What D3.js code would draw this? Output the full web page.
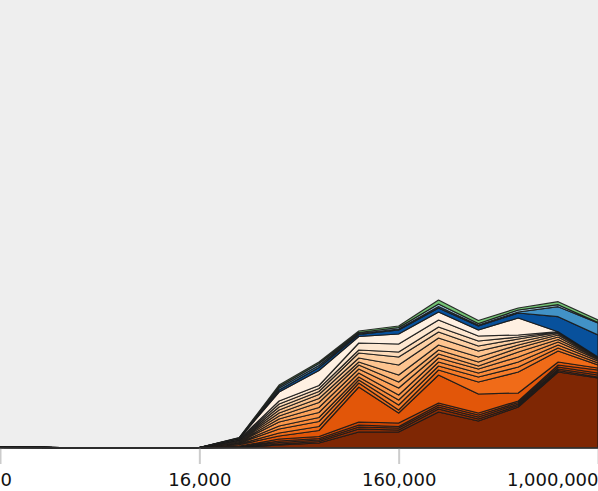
<!DOCTYPE html>
<html>
<head>
<meta charset="utf-8">
<script src="https://cdn.jsdelivr.net/npm/d3@7"></script>
<style>
  body { margin: 0; background: #ffffff; }
  svg { display: block; }
</style>
</head>
<body>
<svg id="chart" width="598" height="491"></svg>
<script>
// ---- data ----
const bins = [0, 1, 2, 3, 4, 5, 6, 7, 8, 9, 10, 11, 12, 13, 14, 15];
const tickBins = [0, 5, 10, 15];
const tickLabels = ["0", "16,000", "160,000", "1,000,000"];

const seriesNames = [
  "S1", "S2", "S3", "S4", "S5", "S6", "S7", "S8", "S9", "S10", "S11",
  "S12", "S13", "S14", "S15", "S16", "S17", "S18", "S19", "S20", "S21", "S22"
];

const seriesValues = [
  [0.5, 0.4, 0, 0, 0.1, 0.2, 0.5, 3, 5, 16, 16, 36, 27, 41, 76, 70],
  [0, 0, 0, 0, 0, 0, 0.3, 1, 1.5, 3, 2, 3, 2, 1.5, 1.5, 1],
  [0, 0, 0, 0, 0, 0, 0.3, 1.5, 1.5, 2, 2, 2, 2, 1.5, 1.5, 2],
  [0, 0, 0, 0, 0, 0, 0.3, 1.5, 1.5, 2, 1.5, 2, 2, 1.5, 2, 2],
  [0, 0, 0, 0, 0, 0, 0.4, 2, 2, 3, 3.5, 2, 2, 1.5, 2, 3],
  [0.3, 0.3, 0, 0, 0.1, 0.2, 1.5, 3, 6, 35, 10, 28, 19, 8, 3, 2],
  [0, 0, 0, 0, 0, 0.1, 0.8, 3, 4, 4, 3, 5, 12, 21, 11, 3],
  [0, 0, 0, 0, 0, 0, 0.8, 4, 5, 3, 5, 4, 5, 5, 3, 2],
  [0, 0, 0, 0, 0, 0, 0.6, 3, 4, 3, 5, 4, 4, 5, 3, 2],
  [0, 0, 0, 0, 0, 0, 0.6, 4, 5, 4, 5, 4, 4, 5, 3, 1.5],
  [0, 0, 0, 0, 0, 0, 0.5, 3, 5, 4, 7, 4, 3, 5, 2.5, 1],
  [0, 0, 0, 0, 0, 0, 0.5, 3, 5, 4, 6, 4, 4, 4, 2.5, 0.5],
  [0, 0, 0, 0, 0, 0, 0.4, 3, 4, 3, 7, 5, 5, 3, 2, 0.5],
  [0, 0, 0, 0, 0, 0, 0.4, 3, 4, 4, 10, 7, 6, 3, 1.5, 0.3],
  [0, 0, 0, 0, 0, 0, 0.3, 3, 3, 5, 8, 6, 5, 3, 1, 0.2],
  [0, 0, 0, 0, 0, 0, 0.3, 3, 3, 3, 5, 5, 5, 2, 0.5, 0],
  [0, 0, 0, 0, 0, 0, 0.3, 3, 3, 7, 8, 7, 5, 2, 0.3, 0],
  [0.2, 0.2, 0, 0, 0, 0, 0.6, 9, 15, 6.5, 10, 8, 6, 17, 0, 0],
  [0, 0, 0, 0, 0, 0, 0.3, 2, 3, 2, 4, 4, 4, 5, 15, 22],
  [0, 0, 0, 0, 0, 0, 0.2, 2, 2, 1, 1, 1.5, 1, 1, 10, 12],
  [0, 0, 0, 0, 0, 0, 0.2, 1.5, 2, 1, 1.5, 2.5, 1.5, 2, 2, 0.5],
  [0, 0, 0, 0, 0, 0, 0.2, 1.5, 1.5, 1.5, 1.5, 4, 3, 2, 3, 2.5]
];

// ---- styles ----
const orangeT = [1.0, 0.95, 0.9, 0.84, 0.78, 0.7, 0.62, 0.56, 0.51, 0.46,
                 0.42, 0.38, 0.34, 0.29, 0.24, 0.18, 0.11, 0.04];
const extraColors = ["#08519c", "#4292c6", "#9ecae1", "#74c476"];
const colors = orangeT.map(t => d3.interpolateOranges(t)).concat(extraColors);

const W = 598, H = 491, baseY = 448;
const svg = d3.select("#chart");

svg.append("rect")
  .attr("x", 0).attr("y", 0)
  .attr("width", W).attr("height", baseY)
  .attr("fill", "#eeeeee");

const x = d3.scalePoint().domain(bins).range([0, W]);
const y = d3.scaleLinear().domain([0, 448]).range([baseY, 0]);

const rows = bins.map((b, i) => {
  const r = { bin: b };
  seriesNames.forEach((n, k) => { r[n] = seriesValues[k][i]; });
  return r;
});

const stacked = d3.stack().keys(seriesNames)(rows);

const area = d3.area()
  .x(d => x(d.data.bin))
  .y0(d => y(d[0]))
  .y1(d => y(d[1]));

svg.append("g")
  .selectAll("path")
  .data(stacked)
  .join("path")
  .attr("d", area)
  .attr("fill", (d, i) => colors[i])
  .attr("stroke", "#1a1a1a")
  .attr("stroke-opacity", 0.9)
  .attr("stroke-width", 1.2)
  .attr("stroke-linejoin", "round");

// axis
const axis = d3.axisBottom(x)
  .tickValues(tickBins)
  .tickFormat(d => tickLabels[tickBins.indexOf(d)])
  .tickSize(16)
  .tickPadding(9);

const gAxis = svg.append("g")
  .attr("transform", `translate(0,${baseY})`)
  .call(axis);

gAxis.select(".domain").remove();
gAxis.selectAll(".tick line")
  .attr("stroke", "#cccccc")
  .attr("stroke-width", 2);
gAxis.selectAll(".tick text")
  .attr("font-family", "DejaVu Sans")
  .attr("font-size", 18)
  .attr("fill", "#111111")
  .attr("text-anchor", (d, i, n) => i === 0 ? "start" : (i === n.length - 1 ? "end" : "middle"));

svg.append("line")
  .attr("x1", 0).attr("x2", W)
  .attr("y1", baseY).attr("y2", baseY)
  .attr("stroke", "#333333")
  .attr("stroke-width", 1.5);
</script>
</body>
</html>
